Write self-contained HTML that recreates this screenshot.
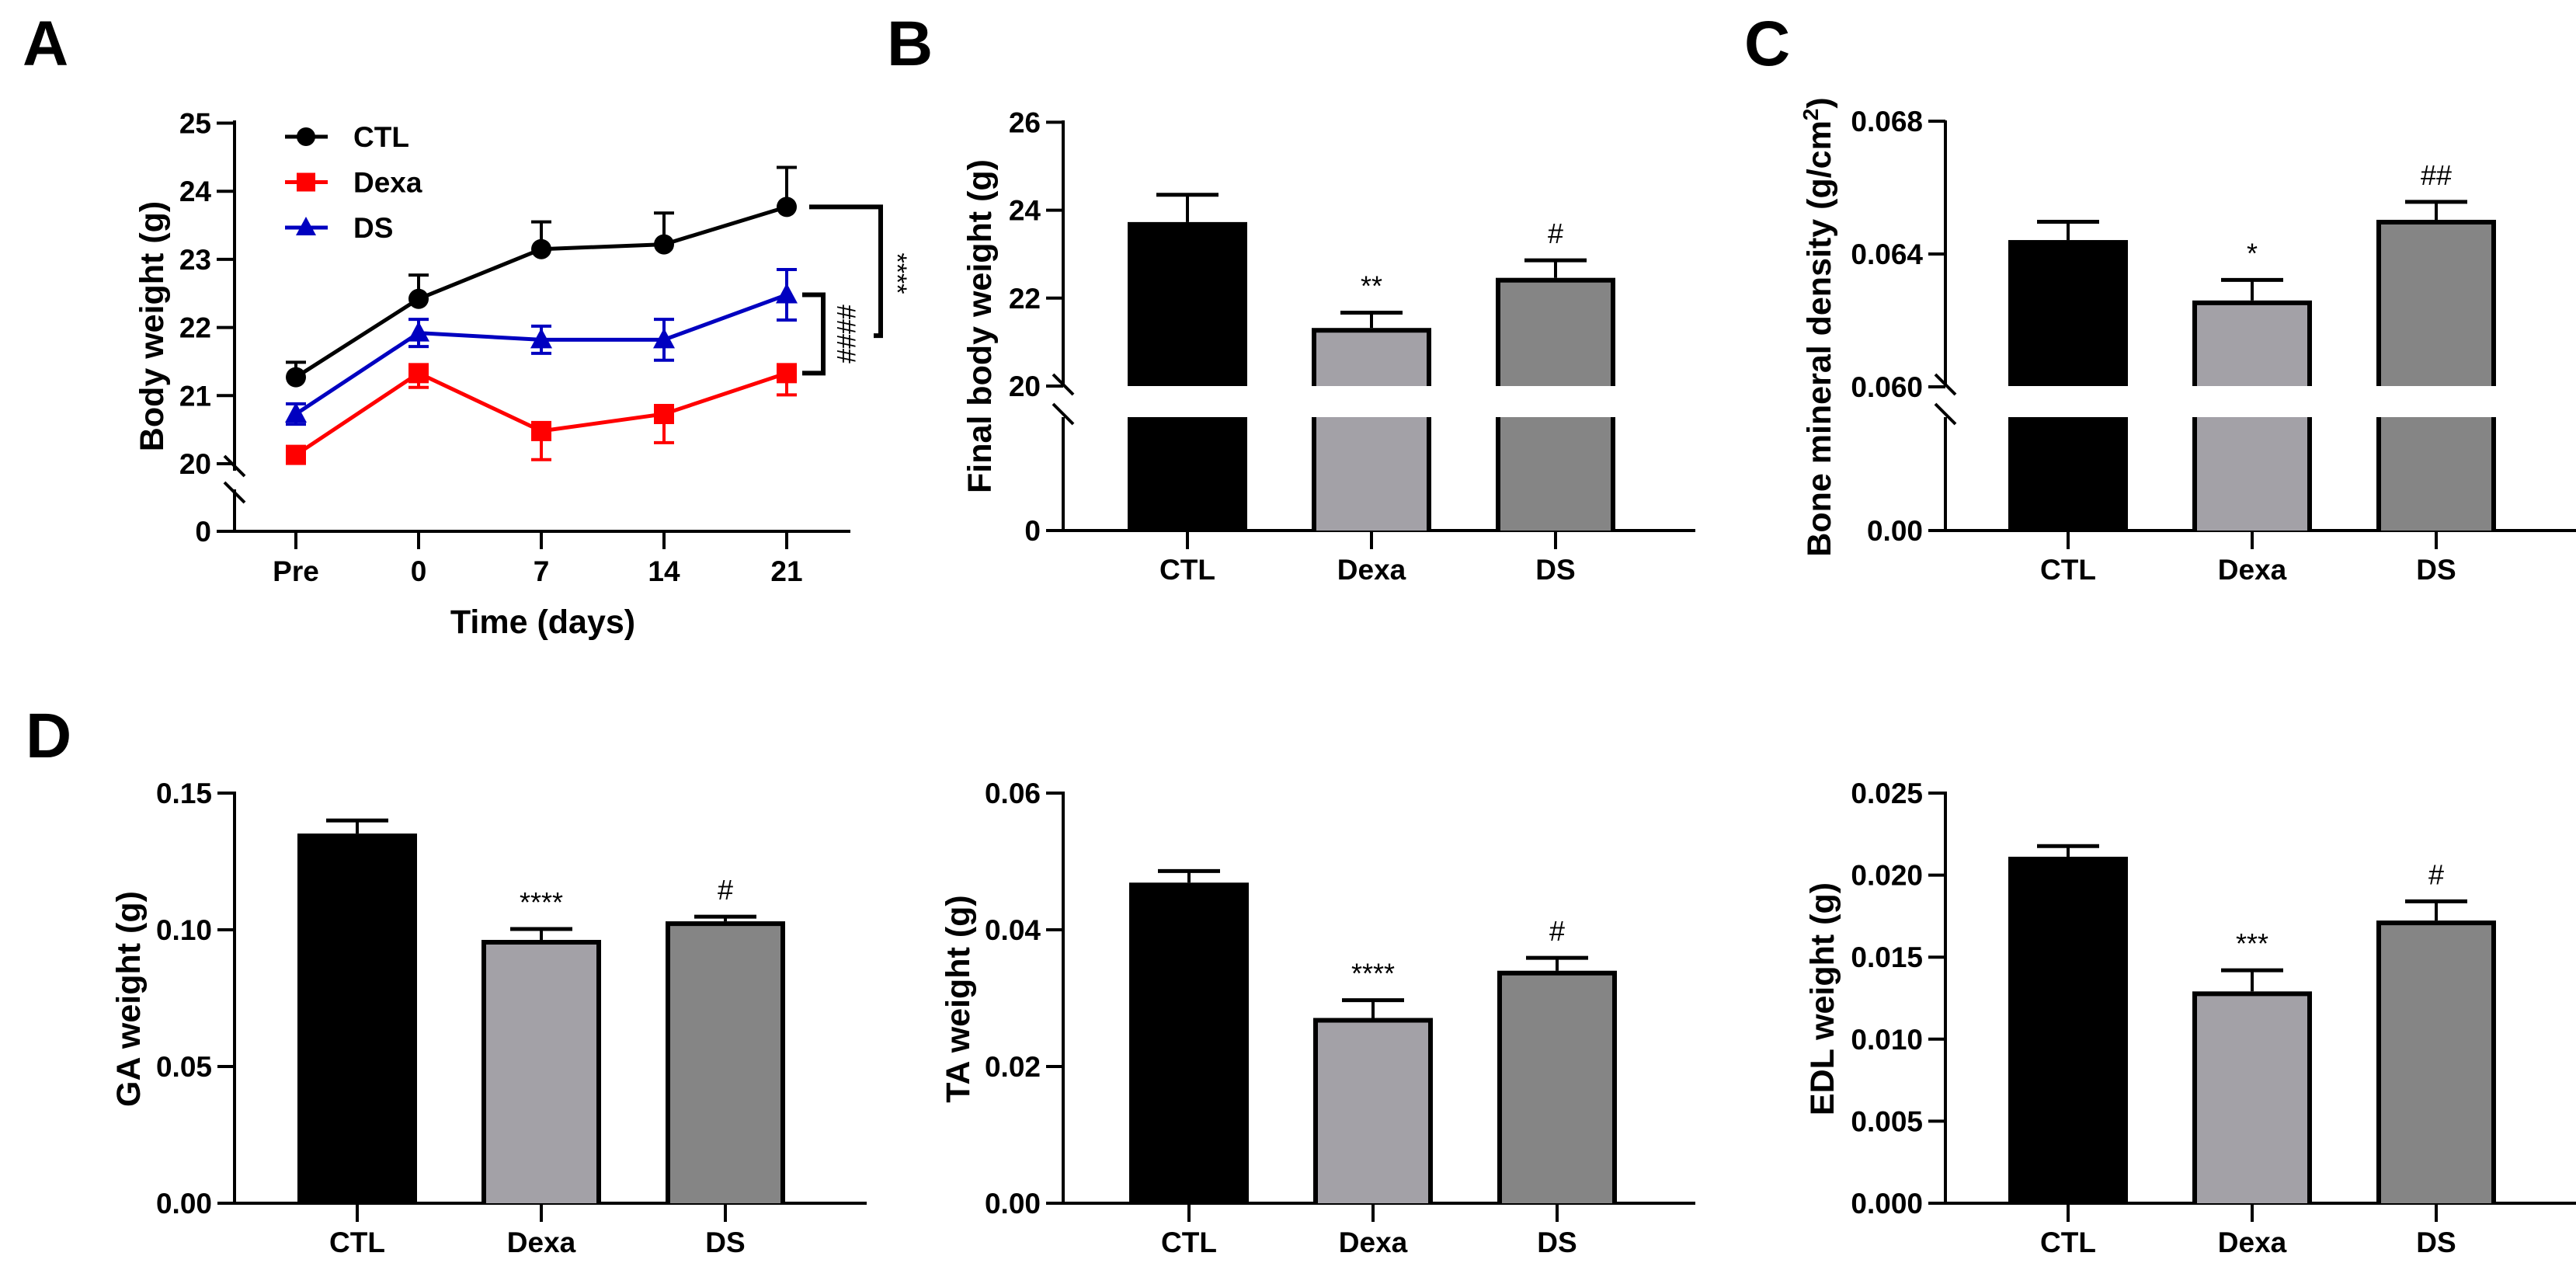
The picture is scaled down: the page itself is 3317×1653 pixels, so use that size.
<!DOCTYPE html>
<html><head><meta charset="utf-8"><style>
html,body{margin:0;padding:0;background:#fff;}
svg{display:block;font-family:"Liberation Sans",Arial,sans-serif;}
</style></head><body>
<svg id="fig" width="3317" height="1653" viewBox="0 0 3317 1653" xmlns="http://www.w3.org/2000/svg"></svg>
<script>
// ---------- Panel A data ----------
const timeLabels = ["Pre","0","7","14","21"];
const ctlMeans = [21.27,22.42,23.15,23.22,23.77];
const ctlErr = [0.22,0.35,0.40,0.46,0.58];
const dexaMeans = [20.13,21.33,20.48,20.73,21.33];
const dexaErr = [0.08,0.21,0.42,0.42,0.32];
const dsMeans = [20.73,21.92,21.82,21.82,22.48];
const dsErr = [0.15,0.20,0.20,0.30,0.37];
const aTicks = [20,21,22,23,24,25];
// ---------- Bar panels data ----------
const groups = ["CTL","Dexa","DS"];
const bMeans = [23.73,21.32,22.46];
const bErr = [0.62,0.35,0.40];
const bTicks = [20,22,24,26];
const bSig = ["","**","#"];
const cMeans = [0.06442,0.0626,0.06503];
const cErr = [0.00055,0.00062,0.00054];
const cTicks = [0.060,0.064,0.068];
const cSig = ["","*","##"];
const gaMeans = [0.1352,0.0963,0.1031];
const gaErr = [0.0048,0.0040,0.0017];
const gaTicks = [0,0.05,0.10,0.15];
const gaSig = ["","****","#"];
const taMeans = [0.0469,0.0271,0.0340];
const taErr = [0.0017,0.0026,0.0019];
const taTicks = [0,0.02,0.04,0.06];
const taSig = ["","****","#"];
const edlMeans = [0.02112,0.01291,0.01723];
const edlErr = [0.00065,0.00129,0.00117];
const edlTicks = [0,0.005,0.010,0.015,0.020,0.025];
const edlSig = ["","***","#"];

const NS="http://www.w3.org/2000/svg";
const svg=document.getElementById('fig');
function el(tag,attrs,parent,text){
  const e=document.createElementNS(NS,tag);
  for(const k in attrs)e.setAttribute(k,attrs[k]);
  if(text!==undefined)e.textContent=text;
  (parent||svg).appendChild(e);return e;
}
function line(x1,y1,x2,y2,w,c,p){return el('line',{x1,y1,x2,y2,stroke:c||'#000','stroke-width':w||4},p);}

function panelLabel(t,x,y){
  const e=el('text',{x,y,'font-size':82,'font-weight':'bold'},svg,t);
  
  
}
panelLabel('A',29,84);panelLabel('B',1142,84);panelLabel('C',2246,84);panelLabel('D',33,975);

function yTitle(t,x,y,name){
  const e=el('text',{x:0,y:0,'font-size':43,'font-weight':'bold','text-anchor':'middle',transform:`translate(${x},${y}) rotate(-90)`},svg,t);
  
  
  return e;
}
function tickLabel(t,x,y,g){
  const e=el('text',{x,y:y+13,'font-size':37,'font-weight':'bold','text-anchor':'end'},g,t);
  
  
}
function breakMarks(ax,y1,y2,g){
  line(ax-13,y1-13,ax+13,y1+13,4,'#000',g);
  line(ax-13,y2-13,ax+13,y2+13,4,'#000',g);
}

// ---------- Panel A ----------
(function(){
  const g=el('g',{});
  
  
  const ax=302, y0=684, yBrk=597, k=87.7, gapTop=606, gapBot=630;
  const yA=v=>yBrk-(v-20)*k;
  const xA=i=>381+i*158;
  line(ax,155,ax,gapTop,4,'#000',g);
  line(ax,gapBot,ax,y0,4,'#000',g);
  breakMarks(ax,600,634,g);
  line(279,y0,1095,y0,4,'#000',g);
  aTicks.forEach(v=>{const y=yA(v);line(279,y,ax,y,4,'#000',g);tickLabel(String(v),272,y,g);});
  line(279,y0,ax,y0,4,'#000',g);tickLabel('0',272,y0,g);
  timeLabels.forEach((t,i)=>{
    const x=xA(i);line(x,y0,x,707,4,'#000',g);
    const e=el('text',{x,y:748,'font-size':37,'font-weight':'bold','text-anchor':'middle'},g,t);
    
    
  });
  const xt=el('text',{x:699,y:815,'font-size':43,'font-weight':'bold','text-anchor':'middle'},g,'Time (days)');
  
  
  const series=[
    {name:'ctl',m:ctlMeans,e:ctlErr,c:'#000',dir:-1,shape:'circle'},
    {name:'dexa',m:dexaMeans,e:dexaErr,c:'#ff0000',dir:1,shape:'square'},
    {name:'ds',m:dsMeans,e:dsErr,c:'#0000c0',dir:0,shape:'tri'}
  ];
  series.forEach(s=>{
    const sg=el('g',{},g);
    
    
    // error bars
    s.m.forEach((v,i)=>{
      const x=xA(i);
      const tops=s.dir===1?[]:[v+s.e[i]];
      const bots=s.dir===-1?[]:[v-s.e[i]];
      tops.forEach(t=>{line(x,yA(v),x,yA(t),4,s.c,sg);line(x-13,yA(t),x+13,yA(t),4,s.c,sg);});
      bots.forEach(t=>{line(x,yA(v),x,yA(t),4,s.c,sg);line(x-13,yA(t),x+13,yA(t),4,s.c,sg);});
    });
    const pts=s.m.map((v,i)=>xA(i)+','+yA(v)).join(' ');
    const pl=el('polyline',{points:pts,fill:'none',stroke:s.c,'stroke-width':5},sg);
    
    
    s.m.forEach((v,i)=>{
      const x=xA(i),y=yA(v);let mk;
      if(s.shape==='circle')mk=el('circle',{cx:x,cy:y,r:13,fill:s.c},sg);
      else if(s.shape==='square')mk=el('rect',{x:x-13,y:y-13,width:26,height:26,fill:s.c},sg);
      else mk=el('polygon',{points:`${x},${y-15} ${x+14},${y+11} ${x-14},${y+11}`,fill:s.c},sg);
      
      
    });
  });
  // legend
  const leg=[['CTL','#000','circle'],['Dexa','#ff0000','square'],['DS','#0000c0','tri']];
  leg.forEach((l,i)=>{
    const lg=el('g',{},g);
    
    
    const y=176+i*58.5,x=394;
    line(367,y,422,y,5,l[1],lg);
    if(l[2]==='circle')el('circle',{cx:x,cy:y,r:12,fill:l[1]},lg);
    else if(l[2]==='square')el('rect',{x:x-12,y:y-12,width:24,height:24,fill:l[1]},lg);
    else el('polygon',{points:`${x},${y-14} ${x+13},${y+10} ${x-13},${y+10}`,fill:l[1]},lg);
    el('text',{x:455,y:y+13,'font-size':37,'font-weight':'bold'},lg,l[0]);
  });
  // significance brackets
  const br1=el('polyline',{points:`1042,${yA(ctlMeans[4])} 1134,${yA(ctlMeans[4])} 1134,${yA(21.88)} 1125,${yA(21.88)}`,fill:'none',stroke:'#000','stroke-width':6},g);
  
  
  const s1=el('text',{x:0,y:0,'font-size':34,'text-anchor':'middle',transform:`translate(1144,352) rotate(90)`},g,'****');
  
  
  const br2=el('polyline',{points:`1033,${yA(dsMeans[4])} 1060,${yA(dsMeans[4])} 1060,${yA(dexaMeans[4])} 1033,${yA(dexaMeans[4])}`,fill:'none',stroke:'#000','stroke-width':6},g);
  
  
  const s2=el('text',{x:0,y:0,'font-size':34,'text-anchor':'middle',transform:`translate(1078,430) rotate(90)`},g,'####');
  
  
  yTitle('Body weight (g)',210,420,'y-axis-title-body-weight');
})();

// ---------- Bar panel builder ----------
const fills=['#000000','#a3a1a7','#858585'];
function barPanel(o){
  const g=el('g',{});
  
  
  const ax=o.ax,y0=o.y0;
  const yS=o.yS;
  const xC=i=>o.x0+i*237;
  const hw=77;
  if(o.brk){
    line(ax,o.top,ax,o.gapTop,4,'#000',g);
    line(ax,o.gapBot,ax,y0,4,'#000',g);
    breakMarks(ax,o.gapTop-2,o.gapBot-4,g);
  } else line(ax,o.top,ax,y0,4,'#000',g);
  line(ax-22,y0,ax+814,y0,4,'#000',g);
  o.ticks.forEach((v,i)=>{const y=yS(v);line(ax-22,y,ax,y,4,'#000',g);tickLabel(o.tickFmt[i],ax-29,y,g);});
  if(o.brk){line(ax-22,y0,ax,y0,4,'#000',g);tickLabel(o.zeroLabel,ax-29,y0,g);}
  o.means.forEach((v,i)=>{
    const x=xC(i);
    const bg=el('g',{},g);
    
    
    const yt=yS(v);
    // error bar
    const ye=yS(v+o.err[i]);
    line(x,yt,x,ye,4,'#000',bg);line(x-40,ye,x+40,ye,5,'#000',bg);
    const sw=i===0?0:6;
    const segs=o.brk?[[yt,o.gapTop,true,false],[o.gapBot,y0,false,true]]:[[yt,y0,true,true]];
    segs.forEach(s=>{
      el('rect',{x:x-hw,y:s[0],width:hw*2,height:s[1]-s[0],fill:fills[i]},bg);
      if(sw){
        const L=x-hw+3,R=x+hw-3;
        let d=`M${L},${s[1]} L${L},${s[0]+(s[2]?3:0)}`;
        if(s[2])d+=` L${R},${s[0]+3}`;else d+=` M${R},${s[0]}`;
        d+=` L${R},${s[1]}`;
        el('path',{d,fill:'none',stroke:'#000','stroke-width':sw},bg);
      }
    });
    line(x,y0,x,y0+24,4,'#000',g);
    const lt=el('text',{x,y:o.labY,'font-size':37,'font-weight':'bold','text-anchor':'middle'},g,groups[i]);
    
    
    if(o.sig[i]){
      const st=el('text',{x,y:ye-22,'font-size':36,'text-anchor':'middle'},g,o.sig[i]);
      
      
    }
  });
  return g;
}

// B
barPanel({name:'panel-b-final-body-weight',ax:1369,y0:683,top:155,brk:true,gapTop:497,gapBot:537,zeroLabel:'0',
  yS:v=>497-(v-20)*56.6,x0:1529,means:bMeans,err:bErr,ticks:bTicks,tickFmt:bTicks.map(String),sig:bSig,labY:746});
yTitle('Final body weight (g)',1276,420,'y-axis-title-final-body-weight');
// C
barPanel({name:'panel-c-bone-mineral-density',ax:2505,y0:683,top:155,brk:true,gapTop:497,gapBot:537,zeroLabel:'0.00',
  yS:v=>498-(v-0.060)/0.004*171,x0:2663,means:cMeans,err:cErr,ticks:cTicks,tickFmt:cTicks.map(v=>v.toFixed(3)),sig:cSig,labY:746});
(function(){
  const t=yTitle('Bone mineral density (g/cm',2357,421,'y-axis-title-bmd');
  const sp=el('tspan',{'font-size':28,dy:-16},t,'2');
  el('tspan',{dy:16},t,')');
})();
// D - GA
barPanel({name:'panel-d-ga-weight',ax:302,y0:1549,top:1019,brk:false,
  yS:v=>1549-v/0.15*528,x0:460,means:gaMeans,err:gaErr,ticks:gaTicks,tickFmt:gaTicks.map(v=>v.toFixed(2)),sig:gaSig,labY:1612});
yTitle('GA weight (g)',180,1286,'y-axis-title-ga-weight');
// D - TA
barPanel({name:'panel-d-ta-weight',ax:1369,y0:1549,top:1019,brk:false,
  yS:v=>1549-v/0.06*528,x0:1531,means:taMeans,err:taErr,ticks:taTicks,tickFmt:taTicks.map(v=>v.toFixed(2)),sig:taSig,labY:1612});
yTitle('TA weight (g)',1248,1286,'y-axis-title-ta-weight');
// D - EDL
barPanel({name:'panel-d-edl-weight',ax:2505,y0:1549,top:1019,brk:false,
  yS:v=>1549-v/0.025*528,x0:2663,means:edlMeans,err:edlErr,ticks:edlTicks,tickFmt:edlTicks.map(v=>v.toFixed(3)),sig:edlSig,labY:1612});
yTitle('EDL weight (g)',2361,1286,'y-axis-title-edl-weight');
</script>
</body></html>
